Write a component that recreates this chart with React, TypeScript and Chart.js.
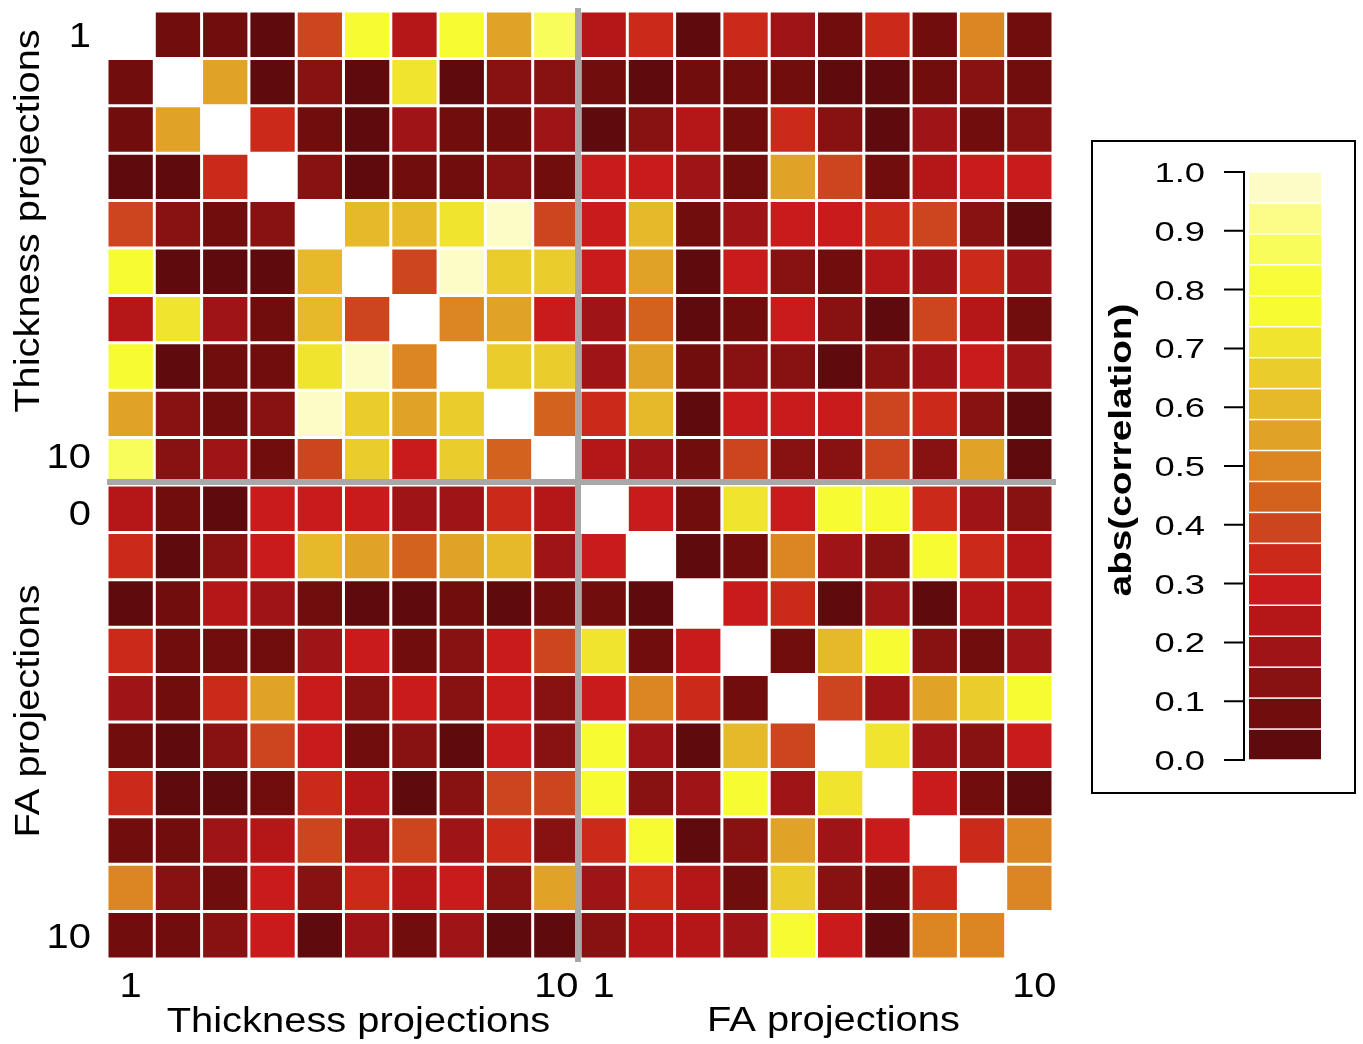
import React, { useEffect, useRef } from "react";
import { Chart, registerables } from "chart.js";

Chart.register(...registerables);

// ---------- data ----------
const colLabels = [
  "T1", "T2", "T3", "T4", "T5", "T6", "T7", "T8", "T9", "T10",
  "F1", "F2", "F3", "F4", "F5", "F6", "F7", "F8", "F9", "F10",
];
const xTickLabels = ["1", "", "", "", "", "", "", "", "", "10", "1", "", "", "", "", "", "", "", "", "10"];
const yTickLabels = ["1", "", "", "", "", "", "", "", "", "10", "0", "", "", "", "", "", "", "", "", "10"];
const xGroupTitles = ["Thickness projections", "FA projections"];
const yGroupTitles = ["Thickness projections", "FA projections"];
const legendTitle = "abs(correlation)";
const legendTickValues = [0, 0.1, 0.2, 0.3, 0.4, 0.5, 0.6, 0.7, 0.8, 0.9, 1.0];
const legendTickLabels = ["0.0", "0.1", "0.2", "0.3", "0.4", "0.5", "0.6", "0.7", "0.8", "0.9", "1.0"];

// 19 colour bins from 0 to 1
const palette = [
  "#5f0a0c", "#720d0e", "#881112", "#9f1416", "#b51618", "#c91b1b", "#cb2a1b",
  "#cd451e", "#d4621f", "#db8523", "#e0a227", "#e6b92b", "#eacd2d", "#f0e42f",
  "#f7fc32", "#f8fd3a", "#f9fd5c", "#fbfd88", "#fcfdc6",
];

// rows 1..10: Thickness projections (columns: Thickness 1..10, FA 1..10)
const thicknessRows: (number | null)[][] = [
  [null, 0.08, 0.08, 0.03, 0.39, 0.76, 0.24, 0.76, 0.55, 0.87, 0.24, 0.34, 0.03, 0.34, 0.18, 0.08, 0.34, 0.08, 0.50, 0.08],
  [0.08, null, 0.55, 0.03, 0.13, 0.03, 0.71, 0.03, 0.13, 0.13, 0.08, 0.03, 0.08, 0.08, 0.08, 0.03, 0.03, 0.08, 0.13, 0.08],
  [0.08, 0.55, null, 0.34, 0.08, 0.03, 0.18, 0.08, 0.08, 0.18, 0.03, 0.13, 0.24, 0.08, 0.34, 0.13, 0.03, 0.18, 0.08, 0.13],
  [0.03, 0.03, 0.34, null, 0.13, 0.03, 0.08, 0.08, 0.13, 0.08, 0.29, 0.29, 0.18, 0.08, 0.55, 0.39, 0.08, 0.24, 0.29, 0.29],
  [0.39, 0.13, 0.08, 0.13, null, 0.60, 0.60, 0.71, 0.97, 0.39, 0.29, 0.60, 0.08, 0.18, 0.29, 0.29, 0.34, 0.39, 0.13, 0.03],
  [0.76, 0.03, 0.03, 0.03, 0.60, null, 0.39, 0.97, 0.66, 0.66, 0.29, 0.55, 0.03, 0.29, 0.13, 0.08, 0.24, 0.18, 0.34, 0.18],
  [0.24, 0.71, 0.18, 0.08, 0.60, 0.39, null, 0.50, 0.55, 0.29, 0.18, 0.45, 0.03, 0.08, 0.29, 0.13, 0.03, 0.39, 0.24, 0.08],
  [0.76, 0.03, 0.08, 0.08, 0.71, 0.97, 0.50, null, 0.66, 0.66, 0.18, 0.55, 0.08, 0.13, 0.13, 0.03, 0.13, 0.18, 0.29, 0.18],
  [0.55, 0.13, 0.08, 0.13, 0.97, 0.66, 0.55, 0.66, null, 0.45, 0.34, 0.60, 0.03, 0.29, 0.29, 0.29, 0.39, 0.34, 0.13, 0.03],
  [0.87, 0.13, 0.18, 0.08, 0.39, 0.66, 0.29, 0.66, 0.45, null, 0.24, 0.18, 0.08, 0.39, 0.13, 0.13, 0.39, 0.13, 0.55, 0.03],
];

// rows 11..20: FA projections (columns: Thickness 1..10, FA 1..10)
const faRows: (number | null)[][] = [
  [0.24, 0.08, 0.03, 0.29, 0.29, 0.29, 0.18, 0.18, 0.34, 0.24, null, 0.29, 0.08, 0.71, 0.29, 0.76, 0.76, 0.34, 0.18, 0.13],
  [0.34, 0.03, 0.13, 0.29, 0.60, 0.55, 0.45, 0.55, 0.60, 0.18, 0.29, null, 0.03, 0.08, 0.50, 0.18, 0.13, 0.76, 0.34, 0.24],
  [0.03, 0.08, 0.24, 0.18, 0.08, 0.03, 0.03, 0.08, 0.03, 0.08, 0.08, 0.03, null, 0.29, 0.34, 0.03, 0.18, 0.03, 0.24, 0.24],
  [0.34, 0.08, 0.08, 0.08, 0.18, 0.29, 0.08, 0.13, 0.29, 0.39, 0.71, 0.08, 0.29, null, 0.08, 0.60, 0.76, 0.13, 0.08, 0.18],
  [0.18, 0.08, 0.34, 0.55, 0.29, 0.13, 0.29, 0.13, 0.29, 0.13, 0.29, 0.50, 0.34, 0.08, null, 0.39, 0.18, 0.55, 0.66, 0.76],
  [0.08, 0.03, 0.13, 0.39, 0.29, 0.08, 0.13, 0.03, 0.29, 0.13, 0.76, 0.18, 0.03, 0.60, 0.39, null, 0.71, 0.18, 0.13, 0.29],
  [0.34, 0.03, 0.03, 0.08, 0.34, 0.24, 0.03, 0.13, 0.39, 0.39, 0.76, 0.13, 0.18, 0.76, 0.18, 0.71, null, 0.29, 0.08, 0.03],
  [0.08, 0.08, 0.18, 0.24, 0.39, 0.18, 0.39, 0.18, 0.34, 0.13, 0.34, 0.76, 0.03, 0.13, 0.55, 0.18, 0.29, null, 0.34, 0.50],
  [0.50, 0.13, 0.08, 0.29, 0.13, 0.34, 0.24, 0.29, 0.13, 0.55, 0.18, 0.34, 0.24, 0.08, 0.66, 0.13, 0.08, 0.34, null, 0.50],
  [0.08, 0.08, 0.13, 0.29, 0.03, 0.18, 0.08, 0.18, 0.03, 0.03, 0.13, 0.24, 0.24, 0.18, 0.76, 0.29, 0.03, 0.50, 0.50, null],
];

// ---------- helpers ----------
const FONT = '"Liberation Sans", Arial, Helvetica, sans-serif';

function colorFor(v: number | null | undefined): string {
  if (v === null || v === undefined) return "#ffffff";
  const n = palette.length;
  const i = Math.max(0, Math.min(n - 1, Math.floor(v * n)));
  return palette[i];
}

function drawText(
  ctx: CanvasRenderingContext2D,
  text: string,
  x: number,
  y: number,
  opts: { font: string; align: CanvasTextAlign; rotate?: number; stretch?: number }
) {
  ctx.save();
  ctx.translate(x, y);
  if (opts.rotate) ctx.rotate(opts.rotate);
  ctx.scale(opts.stretch ?? 1, 1);
  ctx.font = opts.font;
  ctx.textAlign = opts.align;
  ctx.textBaseline = "alphabetic";
  ctx.fillStyle = "#000";
  ctx.fillText(text, 0, 0);
  ctx.restore();
}

const decorPlugin = {
  id: "decor",
  afterDatasetsDraw(chart: any) {
    const ctx: CanvasRenderingContext2D = chart.ctx;
    const xs = chart.scales.x;
    const ys = chart.scales.y;
    const area = chart.chartArea;

    // gray separators between the two blocks
    const xMid = (xs.getPixelForValue(9) + xs.getPixelForValue(10)) / 2 - 2;
    const yMid = ys.getPixelForValue(10) - 3;
    ctx.save();
    ctx.strokeStyle = "#a8a8a8";
    ctx.lineWidth = 6;
    ctx.beginPath();
    ctx.moveTo(xMid, area.top - 3);
    ctx.lineTo(xMid, area.bottom + 3);
    ctx.stroke();
    ctx.beginPath();
    ctx.moveTo(area.left, yMid);
    ctx.lineTo(area.right + 3, yMid);
    ctx.stroke();
    ctx.restore();
  },
  afterDraw(chart: any) {
    const ctx: CanvasRenderingContext2D = chart.ctx;
    const xs = chart.scales.x;
    const ys = chart.scales.y;
    const tickFont = `35px ${FONT}`;
    const stretch = 1.14;

    // bottom tick labels
    xTickLabels.forEach((lab, i) => {
      if (!lab) return;
      drawText(ctx, lab, xs.getPixelForValue(i) + (i === 19 ? 5 : 0), 997, { font: tickFont, align: "center", stretch });
    });
    // left tick labels
    const yOffsets: Record<number, number> = { 9: -6, 10: 4 };
    yTickLabels.forEach((lab, i) => {
      if (!lab) return;
      const y = ys.getPixelForValue(i + 0.5) + 12.5 + (yOffsets[i] ?? 0);
      drawText(ctx, lab, 91, y, { font: tickFont, align: "right", stretch });
    });

    // axis titles
    const xLeftCenter = (xs.getPixelForValue(0) + xs.getPixelForValue(9)) / 2 + 15;
    const xRightCenter = (xs.getPixelForValue(10) + xs.getPixelForValue(19)) / 2 + 17;
    drawText(ctx, xGroupTitles[0], xLeftCenter, 1032, { font: tickFont, align: "center", stretch });
    drawText(ctx, xGroupTitles[1], xRightCenter, 1031, { font: tickFont, align: "center", stretch });

    const yTopCenter = (ys.getPixelForValue(0) + ys.getPixelForValue(10)) / 2 - 27;
    const yBotCenter = (ys.getPixelForValue(10) + ys.getPixelForValue(20)) / 2 - 11;
    drawText(ctx, yGroupTitles[0], 39, yTopCenter, { font: tickFont, align: "center", rotate: -Math.PI / 2, stretch });
    drawText(ctx, yGroupTitles[1], 39, yBotCenter, { font: tickFont, align: "center", rotate: -Math.PI / 2, stretch });

    // ---------- colour legend ----------
    const box = { l: 1092, t: 141, r: 1355, b: 793 };
    const bar = { l: 1249, r: 1321, top: 172, bottom: 760 };
    ctx.save();
    ctx.strokeStyle = "#000";
    ctx.lineWidth = 2;
    ctx.strokeRect(box.l, box.t, box.r - box.l, box.b - box.t);

    const n = palette.length;
    const h = (bar.bottom - bar.top) / n;
    for (let i = 0; i < n; i++) {
      const y1 = bar.bottom - (i + 1) * h;
      ctx.fillStyle = palette[i];
      ctx.fillRect(bar.l, y1 + 0.75, bar.r - bar.l, h - 1.5);
    }

    // legend axis
    const vy = (v: number) => bar.bottom - v * (bar.bottom - bar.top);
    ctx.strokeStyle = "#000";
    ctx.lineWidth = 2;
    ctx.beginPath();
    ctx.moveTo(1244, vy(0));
    ctx.lineTo(1244, vy(1));
    legendTickValues.forEach((v) => {
      ctx.moveTo(1224, vy(v));
      ctx.lineTo(1245, vy(v));
    });
    ctx.stroke();
    ctx.restore();

    legendTickValues.forEach((v, i) => {
      drawText(ctx, legendTickLabels[i], 1205, vy(v) + 10, { font: `28px ${FONT}`, align: "right", stretch: 1.3 });
    });
    drawText(ctx, legendTitle, 1131, 450, {
      font: `bold 31px ${FONT}`,
      align: "center",
      rotate: -Math.PI / 2,
      stretch: 1.25,
    });
  },
};

export default function App() {
  const canvasRef = useRef<HTMLCanvasElement | null>(null);

  useEffect(() => {
    if (!canvasRef.current) return;
    const allRows = [...thicknessRows, ...faRows];
    const datasets = allRows.map((row, r) => ({
      label: `row ${r + 1}`,
      data: row.map((v, c) => ({ x: colLabels[c], y: [r, r + 1], v })),
      backgroundColor: (ctx: any) => colorFor(ctx.raw ? ctx.raw.v : null),
      borderColor: "#ffffff",
      borderWidth: 1.5,
      borderSkipped: false,
      grouped: false,
      barPercentage: 1,
      categoryPercentage: 1,
      inflateAmount: 0,
    }));

    const chart = new Chart(canvasRef.current, {
      type: "bar",
      data: { labels: colLabels, datasets: datasets as any },
      options: {
        responsive: false,
        animation: false,
        devicePixelRatio: 1,
        layout: { padding: { left: 107, top: 11, right: 310, bottom: 85 } },
        plugins: { legend: { display: false }, tooltip: { enabled: false } },
        scales: {
          x: { type: "category", display: false, offset: true, grid: { display: false } },
          y: { type: "linear", display: false, min: 0, max: 20, reverse: true },
        },
      } as any,
      plugins: [decorPlugin],
    });
    return () => chart.destroy();
  }, []);

  return (
    <div style={{ position: "absolute", left: 0, top: 0, width: 1363, height: 1044, background: "#fff" }}>
      <canvas ref={canvasRef} width={1363} height={1044} style={{ display: "block" }} />
    </div>
  );
}
